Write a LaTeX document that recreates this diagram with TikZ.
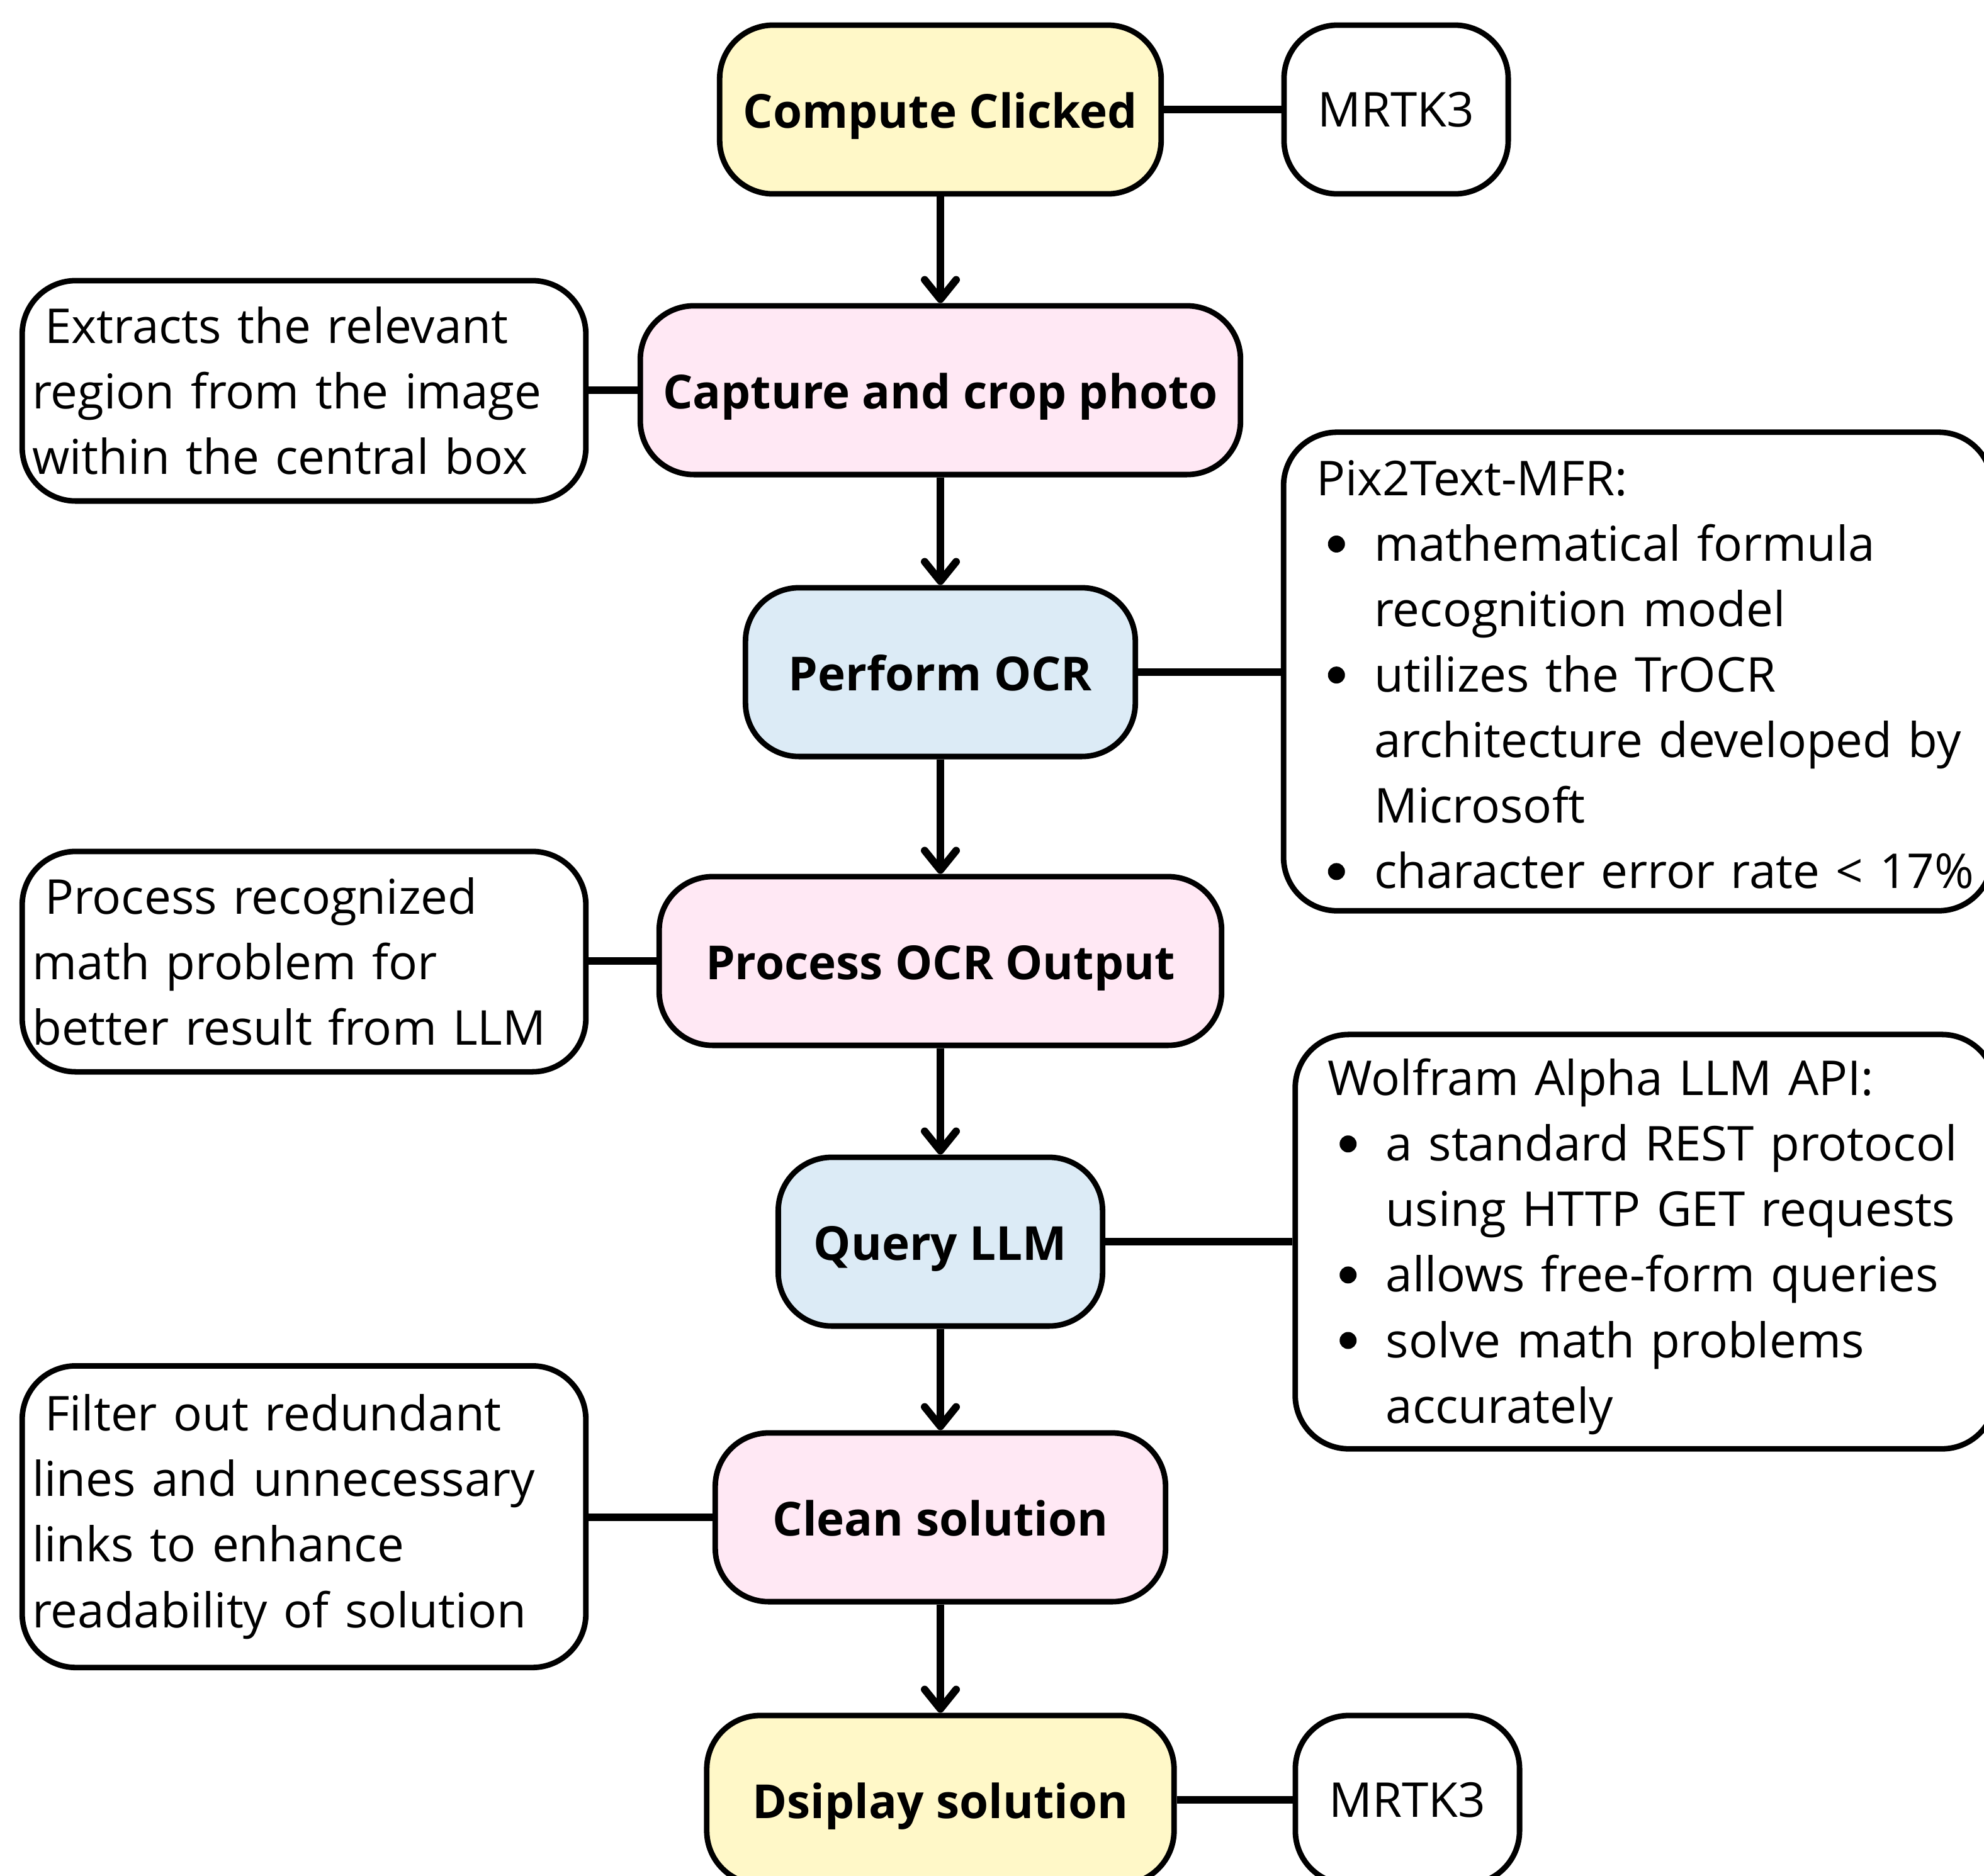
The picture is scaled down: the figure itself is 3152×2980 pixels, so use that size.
\documentclass[tikz,border=0pt]{standalone}
\usepackage{fontspec}
\setmainfont{Open Sans}
\usetikzlibrary{arrows.meta}
\definecolor{cyel}{HTML}{FFF8C8}
\definecolor{cpink}{HTML}{FFE8F4}
\definecolor{cblue}{HTML}{DCEBF6}
\newcommand\bul[1]{\mbox{\makebox[0.92cm][l]{\hspace{0.185cm}\tikz[baseline={(0,-0.27cm)}]\fill (0,0) circle (0.135cm);}#1}}
\newcommand\cnt[1]{\mbox{\hspace*{0.92cm}#1}}
\begin{document}
\begin{tikzpicture}[x=0.01cm,y=-0.01cm,
  box/.style={draw, line width=2.5pt, rounded corners=0.85cm, inner sep=0pt,
    font=\fontsize{21.7}{29.6}\selectfont},
  mainbox/.style={box, minimum height=2.68cm, text height=0.58cm, text depth=0cm,
    font=\fontsize{21.2}{29.6}\selectfont\bfseries},
  note/.style={box, align=left, inner xsep=0.16cm},
  rnote/.style={box, align=left, inner xsep=0.52cm},
  arr/.style={line width=3.4pt, -{Straight Barb[length=0.31cm,width=0.5cm,round]}},
  link/.style={line width=3.4pt}
]
\useasboundingbox (0,0) rectangle (3152,2980);

\node[mainbox, fill=cyel, minimum width=7.01cm] (c1) at (1494,174) {Compute Clicked};
\node[box, minimum width=3.56cm, minimum height=2.68cm] (m1) at (2218,174) {MRTK3};

\node[mainbox, fill=cpink, minimum width=9.53cm] (c2) at (1494,620) {Capture and crop photo};
\node[note, text width=8.63cm, minimum height=3.5cm] (n2) at (483,621)
  {\hspace*{0.2cm}Extracts the relevant\\region from the image\\within the central box};

\node[mainbox, fill=cblue, minimum width=6.19cm] (c3) at (1494,1068) {Perform OCR};
\node[rnote, text width=10.21cm, minimum height=7.6cm] (n3) at (2602,1067)
  {\rule{0pt}{0.66cm}\mbox{Pix2Text-MFR:}\\
   \bul{mathematical formula}\\
   \cnt{recognition model}\\
   \bul{utilizes the TrOCR}\\
   \cnt{architecture developed by}\\
   \cnt{Microsoft}\\
   \bul{character error rate < 17\%}};

\node[mainbox, fill=cpink, minimum width=8.93cm] (c4) at (1494,1527) {Process OCR Output};
\node[note, text width=8.63cm, minimum height=3.5cm] (n4) at (483,1528)
  {\hspace*{0.2cm}Process recognized\\math problem for\\better result from LLM};

\node[mainbox, fill=cblue, minimum width=5.15cm] (c5) at (1494,1973) {Query LLM};
\node[rnote, text width=10.08cm, minimum height=6.58cm] (n5) at (2614,1973)
  {\rule{0pt}{0.74cm}\mbox{Wolfram Alpha LLM API:}\\
   \bul{a standard REST protocol}\\
   \cnt{using HTTP GET requests}\\
   \bul{allows free-form queries}\\
   \bul{solve math problems}\\
   \cnt{accurately}};

\node[mainbox, fill=cpink, minimum width=7.15cm] (c6) at (1494,2411) {Clean solution};
\node[note, text width=8.63cm, minimum height=4.79cm] (n6) at (483,2410)
  {\hspace*{0.2cm}Filter out redundant\\lines and unnecessary\\links to enhance\\readability of solution};

\node[mainbox, fill=cyel, minimum width=7.42cm] (c7) at (1494,2860) {Dsiplay solution};
\node[box, minimum width=3.56cm, minimum height=2.68cm] (m7) at (2236,2860) {MRTK3};

\draw[arr] (c1) -- (c2);
\draw[arr] (c2) -- (c3);
\draw[arr] (c3) -- (c4);
\draw[arr] (c4) -- (c5);
\draw[arr] (c5) -- (c6);
\draw[arr] (c6) -- (c7);

\draw[link] (c1) -- (m1);
\draw[link] (c7) -- (m7);
\draw[link] (c2.west) -- (c2.west -| n2.east);
\draw[link] (c3.east) -- (c3.east -| n3.west);
\draw[link] (c4.west) -- (c4.west -| n4.east);
\draw[link] (c5.east) -- (c5.east -| n5.west);
\draw[link] (c6.west) -- (c6.west -| n6.east);
\end{tikzpicture}
\end{document}
